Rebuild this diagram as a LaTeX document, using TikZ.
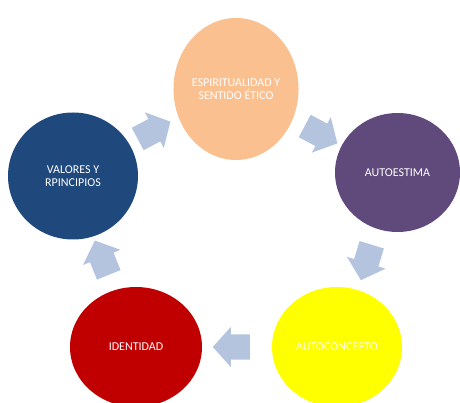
\documentclass[tikz,border=0pt]{standalone}
\usepackage{fontspec}
\setmainfont{Carlito}
\usetikzlibrary{shapes.geometric,shapes.arrows}
\definecolor{corange}{HTML}{FAC090}
\definecolor{cblue}{HTML}{1F497D}
\definecolor{cpurple}{HTML}{604A7B}
\definecolor{cred}{HTML}{C00000}
\definecolor{cyellow}{HTML}{FFFF00}
\definecolor{carrow}{HTML}{B4C4DF}
\begin{document}
\begin{tikzpicture}[x=1pt,y=-1pt,
  circ/.style={ellipse,inner sep=0pt,text=white,align=center,
    font=\fontsize{12}{12.5}\selectfont},
  blockarrow/.style={single arrow,fill=carrow,draw=none,inner xsep=0pt,
    inner ysep=12.5pt,text height=0pt,text depth=0pt,
    minimum height=37pt,single arrow head extend=7.5pt,
    single arrow tip angle=96}]
\useasboundingbox (0,0) rectangle (460,403);
\node[circ,fill=corange,minimum width=124pt,minimum height=142pt] (esp) at (236,89) {ESPIRITUALIDAD Y\\SENTIDO ÉTICO};
\node[circ,fill=cpurple,minimum width=125pt,minimum height=119pt] (aut) at (397.5,172.5) {AUTOESTIMA};
\node[circ,fill=cyellow,minimum width=130pt,minimum height=120pt] (con) at (337,347) {AUTOCONCEPTO};
\node[circ,fill=cred,minimum width=132pt,minimum height=120pt] (ide) at (136,347) {IDENTIDAD};
\node[circ,fill=cblue,minimum width=130pt,minimum height=127pt] (val) at (73,176) {VALORES Y\\RPINCIPIOS};
\node[blockarrow,rotate=28] (a1) at (149,133) {};
\node[blockarrow,rotate=-28] (a2) at (316,132) {};
\node[blockarrow,rotate=-107] (a3) at (368,257) {};
\node[blockarrow,rotate=180] (a4) at (237,347) {};
\node[blockarrow,rotate=112] (a5) at (104,263) {};
\end{tikzpicture}
\end{document}
